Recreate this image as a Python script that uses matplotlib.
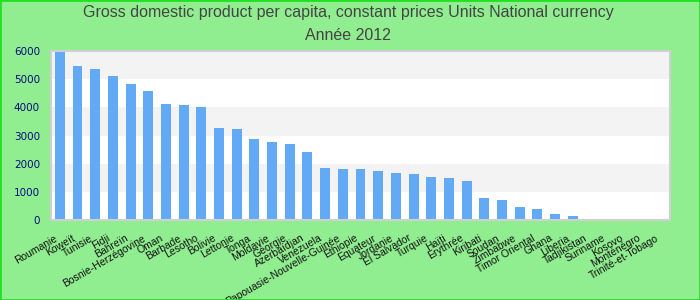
import matplotlib
matplotlib.use('Agg')
import matplotlib.pyplot as plt
import matplotlib.transforms as mtransforms
from matplotlib.patches import Rectangle

countries = ['Roumanie', 'Koweït', 'Tunisie', 'Fidji', 'Bahreïn', 'Bosnie-Herzégovine',
             'Oman', 'Barbade', 'Lesotho', 'Bolivie', 'Lettonie', 'Tonga', 'Moldavie',
             'Géorgie', 'Azerbaïdjan', 'Venezuela', 'Papouasie-Nouvelle-Guinée', 'Ethiopie',
             'Equateur', 'Jordanie', 'El Salvador', 'Turquie', 'Haïti', 'Erythrée',
             'Kiribati', 'Soudan', 'Zimbabwe', 'Timor Oriental', 'Ghana', 'Liberia',
             'Tadjikistan', 'Suriname', 'Kosovo', 'Monténégro', 'Trinité-et-Tobago']
gdp = [5965, 5465, 5360, 5110, 4830, 4580, 4120, 4080, 4010, 3265, 3230, 2875, 2770,
       2700, 2415, 1845, 1810, 1810, 1740, 1670, 1635, 1525, 1490, 1385, 780, 710,
       460, 390, 215, 140, 35, 4, 3, 2, 1]
yticks = [0, 1000, 2000, 3000, 4000, 5000, 6000]

fig = plt.figure(figsize=(7, 3), dpi=100, facecolor='#90ee90')
ax = fig.add_axes([51/700, 80/300, 619/700, 169/300])
ax.set_facecolor('white')

# alternating bands
for lo in [1000, 3000, 5000]:
    ax.axhspan(lo, lo + 1000, color='#f3f3f3', zorder=0, lw=0)

x = list(range(len(countries)))
ax.bar(x, gdp, width=0.56, color='#62aaf5', zorder=2)

ax.set_xlim(-0.5, len(countries) - 0.5)
ax.set_ylim(0, 6000)
ax.set_yticks(yticks)
ax.set_yticklabels([str(v) for v in yticks], color='#0a0a80', fontsize=7.5,
                   family='DejaVu Sans')
ax.tick_params(axis='y', length=0, pad=8)
ax.tick_params(axis='x', length=0, pad=0)
ax.set_xticks(x)
ax.set_xticklabels(countries, rotation=30, ha='right', va='top', rotation_mode='anchor',
                   fontsize=7.5, family='Liberation Sans', color='#111111')
offset = mtransforms.ScaledTranslation(-6/100, -13/100, fig.dpi_scale_trans)
for lab in ax.get_xticklabels():
    lab.set_transform(lab.get_transform() + offset)

for s in ax.spines.values():
    s.set_color('#d0d0d0')
    s.set_linewidth(1.5)

fig.text(0.497, 1 - 13/300, 'Gross domestic product per capita, constant prices Units National currency',
         ha='center', va='center', fontsize=11.5, color='#444444', family='Liberation Sans')
fig.text(0.497, 1 - 36/300, 'Année 2012', ha='center', va='center', fontsize=11.5,
         color='#444444', family='Liberation Sans')

fig.patches.append(Rectangle((0, 0), 1, 1, transform=fig.transFigure, fill=False,
                             edgecolor='#22e022', linewidth=2))

fig.savefig('out.png', dpi=100, facecolor=fig.get_facecolor())
